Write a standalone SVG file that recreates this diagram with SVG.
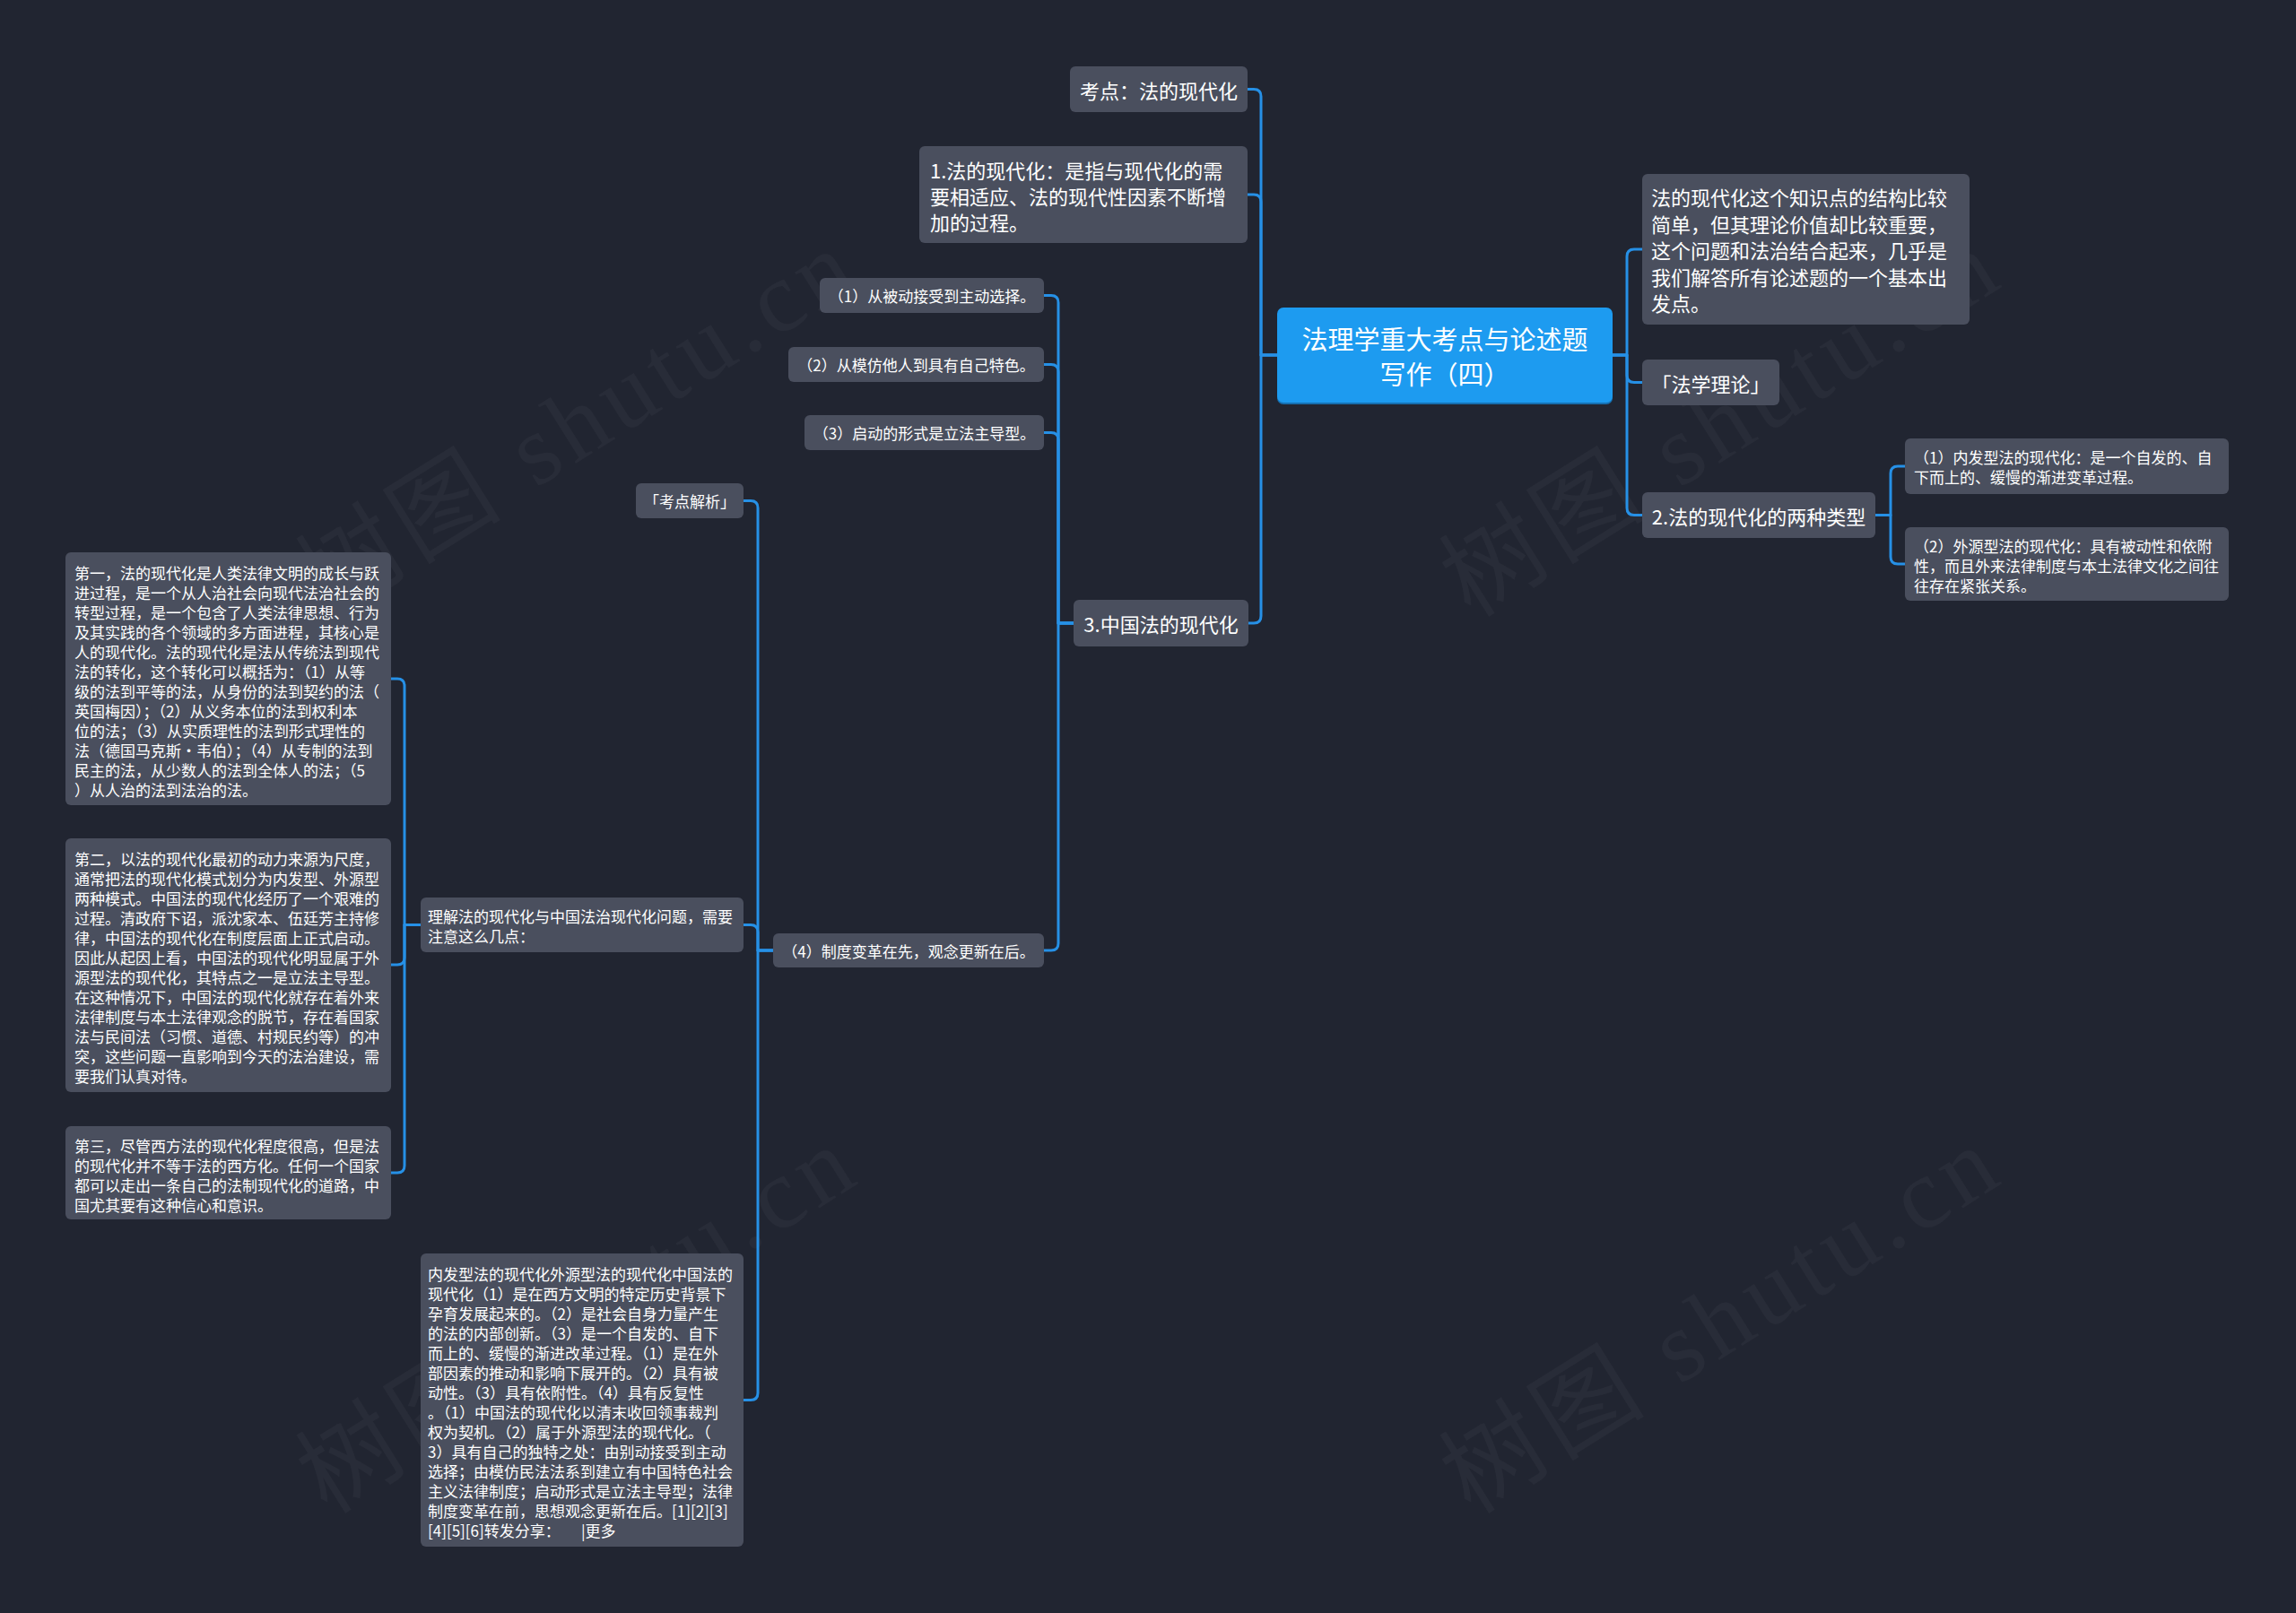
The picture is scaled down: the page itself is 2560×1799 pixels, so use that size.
<svg xmlns="http://www.w3.org/2000/svg" width="2560" height="1799" viewBox="0 0 2560 1799">
<style>
.bg{fill:#212531}
.wm{font-family:"Liberation Serif","Noto Sans CJK SC",serif;font-size:112px;fill:#ffffff;fill-opacity:0.035}
.node rect{fill:#4a4f5e}
.root rect{fill:#1d9bf0}
.t{font-family:"Noto Sans CJK SC","Noto Sans",sans-serif;fill:#ffffff}
.f22{font-size:22px}
.f17{font-size:17px}
.f29{font-size:29px}
.c{text-anchor:middle;dominant-baseline:central}
.l{dominant-baseline:central}
.conn path{fill:none;stroke:#2690e6;stroke-width:3;stroke-linejoin:round;stroke-linecap:round}
</style>
<rect class="bg" x="0" y="0" width="2560" height="1799"/>
<g id="watermarks">
<text class="wm" transform="translate(365,690) rotate(-32)" textLength="700" lengthAdjust="spacing">树图 shutu.cn</text>
<text class="wm" transform="translate(1640,690) rotate(-32)" textLength="700" lengthAdjust="spacing">树图 shutu.cn</text>
<text class="wm" transform="translate(365,1690) rotate(-32)" textLength="700" lengthAdjust="spacing">树图 shutu.cn</text>
<text class="wm" transform="translate(1640,1690) rotate(-32)" textLength="700" lengthAdjust="spacing">树图 shutu.cn</text>
</g>
<g id="connectors" class="conn">
<path d="M1424,396 H1406 V107.5 Q1406,99.5 1398,99.5 H1391"/>
<path d="M1424,396 H1406 V225 Q1406,217 1398,217 H1391"/>
<path d="M1424,396 H1406 V687 Q1406,695 1398,695 H1391"/>
<path d="M1798,396 H1814 V286 Q1814,278 1822,278 H1831"/>
<path d="M1798,396 H1814 V418.5 Q1814,426.5 1822,426.5 H1831"/>
<path d="M1798,396 H1814 V566.5 Q1814,574.5 1822,574.5 H1831"/>
<path d="M2091,574.5 H2108 V528 Q2108,520 2116,520 H2124"/>
<path d="M2091,574.5 H2108 V621 Q2108,629 2116,629 H2124"/>
<path d="M1197,695 H1180 V337.5 Q1180,329.5 1172,329.5 H1164"/>
<path d="M1197,695 H1180 V414.5 Q1180,406.5 1172,406.5 H1164"/>
<path d="M1197,695 H1180 V490.5 Q1180,482.5 1172,482.5 H1164"/>
<path d="M1197,695 H1180 V1052 Q1180,1060 1172,1060 H1164"/>
<path d="M862,1060 H845 V566.5 Q845,558.5 837,558.5 H829"/>
<path d="M862,1060 H845 V1039.5 Q845,1031.5 837,1031.5 H829"/>
<path d="M862,1060 H845 V1553.5 Q845,1561.5 837,1561.5 H829"/>
<path d="M469,1031.5 H451 V765 Q451,757 443,757 H436"/>
<path d="M469,1031.5 H451 V1068 Q451,1076 443,1076 H436"/>
<path d="M469,1031.5 H451 V1300 Q451,1308 443,1308 H436"/>
</g>
<g id="root" class="root">
<rect x="1424" y="345" width="374" height="106" rx="7" fill="#1670b8" style="fill:#166fb0"/>
<rect x="1424" y="343" width="374" height="106" rx="7"/>
<text class="t f29 c" x="1611" y="377">法理学重大考点与论述题</text>
<text class="t f29 c" x="1611" y="416">写作（四）</text>
</g>
<g id="n-kaodian" class="node">
<rect x="1193" y="74" width="198" height="51" rx="6"/>
<text class="t f22 c" x="1292" y="99.5">考点：法的现代化</text>
</g>
<g id="n-1" class="node">
<rect x="1025" y="163" width="366" height="108" rx="6"/>
<text class="t f22 l" x="1037" y="189">1.法的现代化：是指与现代化的需</text>
<text class="t f22 l" x="1037" y="218">要相适应、法的现代性因素不断增</text>
<text class="t f22 l" x="1037" y="247">加的过程。</text>
</g>
<g id="n-3" class="node">
<rect x="1197" y="669" width="195" height="52" rx="6"/>
<text class="t f22 c" x="1294.5" y="695">3.中国法的现代化</text>
</g>
<g id="n-3-1" class="node">
<rect x="914" y="310" width="250" height="39" rx="6"/>
<text class="t f17 c" x="1039" y="329.5">（1）从被动接受到主动选择。</text>
</g>
<g id="n-3-2" class="node">
<rect x="879" y="387" width="285" height="39" rx="6"/>
<text class="t f17 c" x="1021.5" y="406.5">（2）从模仿他人到具有自己特色。</text>
</g>
<g id="n-3-3" class="node">
<rect x="897" y="463" width="267" height="39" rx="6"/>
<text class="t f17 c" x="1030.5" y="482.5">（3）启动的形式是立法主导型。</text>
</g>
<g id="n-3-4" class="node">
<rect x="862" y="1041" width="302" height="38" rx="6"/>
<text class="t f17 c" x="1013" y="1060">（4）制度变革在先，观念更新在后。</text>
</g>
<g id="n-jiexi" class="node">
<rect x="709" y="539" width="120" height="39" rx="6"/>
<text class="t f17 c" x="769" y="558.5">「考点解析」</text>
</g>
<g id="n-lijie" class="node">
<rect x="469" y="1001" width="360" height="61" rx="6"/>
<text class="t f17 l" x="477" y="1021">理解法的现代化与中国法治现代化问题，需要</text>
<text class="t f17 l" x="477" y="1043">注意这么几点：</text>
</g>
<g id="n-di1" class="node">
<rect x="73" y="616" width="363" height="282" rx="6"/>
<text class="t f17 l" x="83" y="638">第一，法的现代化是人类法律文明的成长与跃</text>
<text class="t f17 l" x="83" y="660">进过程，是一个从人治社会向现代法治社会的</text>
<text class="t f17 l" x="83" y="682">转型过程，是一个包含了人类法律思想、行为</text>
<text class="t f17 l" x="83" y="704">及其实践的各个领域的多方面进程，其核心是</text>
<text class="t f17 l" x="83" y="726">人的现代化。法的现代化是法从传统法到现代</text>
<text class="t f17 l" x="83" y="748">法的转化，这个转化可以概括为：（1）从等</text>
<text class="t f17 l" x="83" y="770">级的法到平等的法，从身份的法到契约的法（</text>
<text class="t f17 l" x="83" y="792">英国梅因）；（2）从义务本位的法到权利本</text>
<text class="t f17 l" x="83" y="814">位的法；（3）从实质理性的法到形式理性的</text>
<text class="t f17 l" x="83" y="836">法（德国马克斯·韦伯）；（4）从专制的法到</text>
<text class="t f17 l" x="83" y="858">民主的法，从少数人的法到全体人的法；（5</text>
<text class="t f17 l" x="83" y="880">）从人治的法到法治的法。</text>
</g>
<g id="n-di2" class="node">
<rect x="73" y="935" width="363" height="283" rx="6"/>
<text class="t f17 l" x="83" y="957">第二，以法的现代化最初的动力来源为尺度，</text>
<text class="t f17 l" x="83" y="979">通常把法的现代化模式划分为内发型、外源型</text>
<text class="t f17 l" x="83" y="1001">两种模式。中国法的现代化经历了一个艰难的</text>
<text class="t f17 l" x="83" y="1023">过程。清政府下诏，派沈家本、伍廷芳主持修</text>
<text class="t f17 l" x="83" y="1045">律，中国法的现代化在制度层面上正式启动。</text>
<text class="t f17 l" x="83" y="1067">因此从起因上看，中国法的现代化明显属于外</text>
<text class="t f17 l" x="83" y="1089">源型法的现代化，其特点之一是立法主导型。</text>
<text class="t f17 l" x="83" y="1111">在这种情况下，中国法的现代化就存在着外来</text>
<text class="t f17 l" x="83" y="1133">法律制度与本土法律观念的脱节，存在着国家</text>
<text class="t f17 l" x="83" y="1155">法与民间法（习惯、道德、村规民约等）的冲</text>
<text class="t f17 l" x="83" y="1177">突，这些问题一直影响到今天的法治建设，需</text>
<text class="t f17 l" x="83" y="1199">要我们认真对待。</text>
</g>
<g id="n-di3" class="node">
<rect x="73" y="1256" width="363" height="104" rx="6"/>
<text class="t f17 l" x="83" y="1277">第三，尽管西方法的现代化程度很高，但是法</text>
<text class="t f17 l" x="83" y="1299">的现代化并不等于法的西方化。任何一个国家</text>
<text class="t f17 l" x="83" y="1321">都可以走出一条自己的法制现代化的道路，中</text>
<text class="t f17 l" x="83" y="1343">国尤其要有这种信心和意识。</text>
</g>
<g id="n-neifa" class="node">
<rect x="469" y="1398" width="360" height="327" rx="6"/>
<text class="t f17 l" x="477" y="1420">内发型法的现代化外源型法的现代化中国法的</text>
<text class="t f17 l" x="477" y="1442">现代化（1）是在西方文明的特定历史背景下</text>
<text class="t f17 l" x="477" y="1464">孕育发展起来的。（2）是社会自身力量产生</text>
<text class="t f17 l" x="477" y="1486">的法的内部创新。（3）是一个自发的、自下</text>
<text class="t f17 l" x="477" y="1508">而上的、缓慢的渐进改革过程。（1）是在外</text>
<text class="t f17 l" x="477" y="1530">部因素的推动和影响下展开的。（2）具有被</text>
<text class="t f17 l" x="477" y="1552">动性。（3）具有依附性。（4）具有反复性</text>
<text class="t f17 l" x="477" y="1574">。（1）中国法的现代化以清末收回领事裁判</text>
<text class="t f17 l" x="477" y="1596">权为契机。（2）属于外源型法的现代化。（</text>
<text class="t f17 l" x="477" y="1618">3）具有自己的独特之处：由别动接受到主动</text>
<text class="t f17 l" x="477" y="1640">选择；由模仿民法法系到建立有中国特色社会</text>
<text class="t f17 l" x="477" y="1662">主义法律制度；启动形式是立法主导型；法律</text>
<text class="t f17 l" x="477" y="1684">制度变革在前，思想观念更新在后。[1][2][3]</text>
<text class="t f17 l" x="477" y="1706">[4][5][6]转发分享：<tspan x="648">|更多</tspan></text>
</g>
<g id="n-r1" class="node">
<rect x="1831" y="194" width="365" height="168" rx="6"/>
<text class="t f22 l" x="1841" y="219">法的现代化这个知识点的结构比较</text>
<text class="t f22 l" x="1841" y="248.5">简单，但其理论价值却比较重要，</text>
<text class="t f22 l" x="1841" y="278">这个问题和法治结合起来，几乎是</text>
<text class="t f22 l" x="1841" y="307.5">我们解答所有论述题的一个基本出</text>
<text class="t f22 l" x="1841" y="337">发点。</text>
</g>
<g id="n-r2" class="node">
<rect x="1831" y="401" width="153" height="51" rx="6"/>
<text class="t f22 c" x="1907.5" y="426.5">「法学理论」</text>
</g>
<g id="n-2" class="node">
<rect x="1831" y="549" width="260" height="51" rx="6"/>
<text class="t f22 c" x="1961" y="574.5">2.法的现代化的两种类型</text>
</g>
<g id="n-2-1" class="node">
<rect x="2124" y="489" width="361" height="62" rx="6"/>
<text class="t f17 l" x="2134" y="509">（1）内发型法的现代化：是一个自发的、自</text>
<text class="t f17 l" x="2134" y="531">下而上的、缓慢的渐进变革过程。</text>
</g>
<g id="n-2-2" class="node">
<rect x="2124" y="588" width="361" height="82" rx="6"/>
<text class="t f17 l" x="2134" y="608">（2）外源型法的现代化：具有被动性和依附</text>
<text class="t f17 l" x="2134" y="630">性，而且外来法律制度与本土法律文化之间往</text>
<text class="t f17 l" x="2134" y="652">往存在紧张关系。</text>
</g>
</svg>
